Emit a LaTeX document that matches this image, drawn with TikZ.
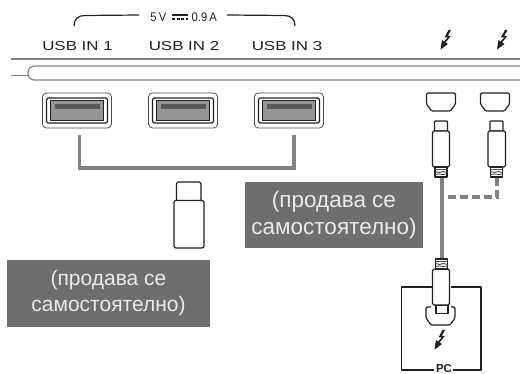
\documentclass[tikz,border=0pt]{standalone}
\usepackage{fontspec}
\setmainfont{Liberation Sans}
\newfontfamily\widefont[FakeStretch=1.3]{Liberation Sans}
\newfontfamily\narrowfont[FakeStretch=0.9]{Liberation Sans}
\definecolor{boxgray}{HTML}{6D6E71}
\definecolor{linegray}{HTML}{808285}
\definecolor{portgray}{HTML}{939598}
\definecolor{stripgray}{HTML}{58595B}
\definecolor{inkdark}{HTML}{231F20}
\tikzset{
  ink/.style={draw=inkdark,line width=1.2pt,line join=round},
  thinink/.style={draw=inkdark!80,line width=0.8pt},
  frameline/.style={draw=linegray,line width=1.7pt},
  conn/.style={draw=linegray,line width=3.4pt},
  connd/.style={draw=linegray,line width=3.4pt,dash pattern=on 8pt off 4pt},
  usblabel/.style={font=\widefont\fontsize{13}{13}\selectfont,text=inkdark,inner sep=0pt},
  ratelabel/.style={font=\narrowfont\fontsize{12.5}{12.5}\selectfont,text=inkdark,inner sep=0pt},
  caption/.style={fill=boxgray,text=white!92!black,align=center,inner sep=0pt,minimum height=0pt},
}
\newcommand{\usbport}[2]{%
  \draw[thinink,rounded corners=4pt] (#1,93) rectangle (#1+69,128);
  \draw[ink,rounded corners=1.5pt] (#1+4,98) rectangle (#1+65,123);
  \draw[draw=inkdark,line width=0.8pt,fill=portgray] (#1+8,100.5) rectangle (#1+61,120.5);
  \fill[stripgray] (#1+12,104) rectangle (#1+57,109);
  \coordinate (#2) at (#1+37,128);
}
\newcommand{\tbsocket}[2]{%
  \draw[ink,rounded corners=1.2pt] (#1,#2) -- (#1+29,#2) -- (#1+29,#2+11) -- (#1+24,#2+18) -- (#1+5,#2+18) -- (#1,#2+11) -- cycle;
}
\newcommand{\neckhatch}[2]{%
  \draw[ink,fill=white] (#1-6,#2) rectangle (#1+6,#2+10);
  \draw[draw=inkdark!80,line width=0.9pt] (#1-6,#2+2.5) -- (#1+6,#2+2.5)
     (#1-6,#2+4.5) -- (#1-2,#2+5.5) -- (#1+2,#2+4.5) -- (#1+6,#2+5.5)
     (#1-6,#2+7.5) -- (#1-2,#2+7) -- (#1+2,#2+7.5) -- (#1+6,#2+7);
}
\newcommand{\boltmark}[2]{%
  \fill[inkdark] (#1+1.5,#2-11) -- (#1+4,#2-11) -- (#1+0.8,#2-5.2) -- (#1+4,#2-5.2) -- (#1-1.5,#2+1.5) -- (#1+1,#2+3) -- (#1-6.5,#2+8.5) -- (#1-5,#2-1) -- (#1-3,#2+0.6) -- (#1+0.8,#2-3.6) -- (#1-2.5,#2-3.6) -- cycle;
}
\begin{document}
\begin{tikzpicture}[x=1pt,y=-1pt]
\useasboundingbox (0,0) rectangle (520,374);
\fill[white] (0,0) rectangle (520,374);
% bracket and rating
\coordinate (brL) at (74,26);
\coordinate (brLe) at (139,15);
\coordinate (brR) at (295,26);
\coordinate (brRs) at (227,15);
\draw[draw=inkdark,line width=1.2pt] (brL) .. controls (74,19) and (78,15.5) .. (85,15.5) -- (brLe);
\draw[draw=inkdark,line width=1.2pt] (brRs) -- (284,15.5) .. controls (291,15.5) and (295,19) .. (brR);
\node[ratelabel,anchor=east] (v) at (166.5,17.5) {5\,V};
\node[ratelabel,anchor=west] (a) at (191.5,17.5) {0.9\,A};
\draw[draw=inkdark,line width=1.2pt] (172,15) -- (188,15);
\draw[draw=inkdark,line width=1.2pt,dash pattern=on 3pt off 1.6pt] (172,19) -- (188,19);
% labels
\node[usblabel] (u1) at (77.5,46) {USB IN 1};
\node[usblabel] (u2) at (184,46) {USB IN 2};
\node[usblabel] (u3) at (287,46) {USB IN 3};
% frame
\draw[frameline] (11,59) -- (520,59);
\draw[draw=linegray,line width=1.2pt,rounded corners=6.5pt] (520,66) -- (28,66) -- (28,80) -- (520,80);
\draw[draw=linegray,line width=1.2pt] (11,75.5) -- (28,75.5);
% USB ports
\usbport{42.5}{pa}
\usbport{148.5}{pb}
\usbport{254.5}{pc}
\draw[conn] (79.5,135) -- (79.5,168) -- (294,168) -- (294,135);
% USB stick
\draw[ink,rounded corners=1.5pt] (176.5,182) rectangle (201,201);
\draw[ink,fill=white,rounded corners=2pt] (174,200.5) rectangle (204,248);
% captions
\node[caption,minimum width=203pt,minimum height=67pt,font=\fontsize{21}{26}\selectfont] (c1) at (108.5,293.5) {(продава се\\самостоятелно)};
\node[caption,minimum width=178pt,minimum height=66pt,font=\fontsize{22.5}{27}\selectfont] (c2) at (334,215) {(продава се\\самостоятелно)};
% bolts top
\boltmark{447}{41}
\boltmark{503.5}{41}
% sockets
\tbsocket{426.5}{93}
\tbsocket{480.5}{93}
% connectors
\draw[conn] (442,178) -- (442,258);
\draw[connd] (497,178) -- (497,197) -- (442,197);
% upper plugs
\draw[ink,rounded corners=0.8pt] (434.5,121) rectangle (447.5,131);
\draw[ink,fill=white,rounded corners=1.5pt] (432.5,131) rectangle (449.5,167);
\neckhatch{441}{167}
\draw[ink,rounded corners=0.8pt] (490,121) rectangle (503,131);
\draw[ink,fill=white,rounded corners=1.5pt] (488,131) rectangle (505.5,167);
\neckhatch{496.5}{167}
% PC frame
\draw[ink] (432,287) -- (401.5,287) -- (401.5,370) -- (434,370);
\draw[ink] (453,370) -- (481,370) -- (481,287) -- (451,287);
\node[inner sep=0pt,font=\bfseries\fontsize{11.5}{11.5}\selectfont,text=inkdark] (pc) at (444,368.5) {PC};
% lower plug and socket
\draw[ink,rounded corners=1.2pt] (426,307) -- (426,318) -- (431,325) -- (450,325) -- (455,318) -- (455,307) -- cycle;
\fill[white] (431,303) rectangle (451,309);
\draw[ink,fill=white] (436,305) rectangle (448,313.5);
\draw[ink,fill=white,rounded corners=1.5pt] (432.5,269) rectangle (449.5,305);
\neckhatch{441.5}{259}
\boltmark{441}{341}
\end{tikzpicture}
\end{document}
